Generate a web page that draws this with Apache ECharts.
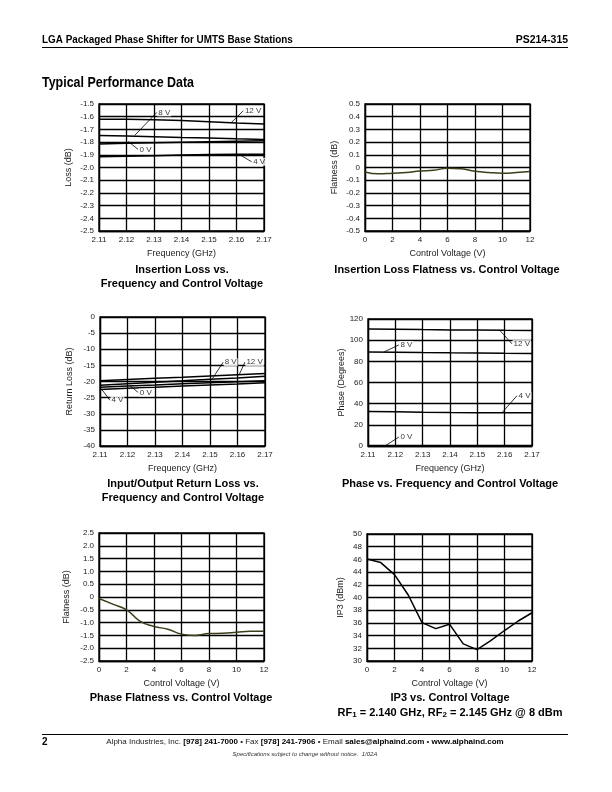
<!DOCTYPE html>
<html>
<head>
<meta charset="utf-8">
<script src="https://cdn.jsdelivr.net/npm/echarts@6/dist/echarts.min.js"></script>
<style>
html,body{margin:0;padding:0;background:#fff;}
#c{width:612px;height:792px;}
</style>
</head>
<body>
<div id="c"></div>
<script>
// ---------- DATA ----------
const freq = [2.11, 2.12, 2.13, 2.14, 2.15, 2.16, 2.17];
const voltage = [0, 1, 2, 3, 4, 5, 6, 7, 8, 9, 10, 11, 12];

// Insertion loss (dB) vs frequency
const il0V  = [-1.815, -1.81, -1.806, -1.802, -1.798, -1.794, -1.79];
const il4V  = [-1.915, -1.912, -1.908, -1.902, -1.898, -1.896, -1.895];
const il8V  = [-1.748, -1.752, -1.757, -1.763, -1.768, -1.774, -1.779];
const il12V = [-1.62, -1.621, -1.624, -1.63, -1.64, -1.65, -1.658];

// Insertion loss flatness (dB) vs control voltage
const ilFlat = [-0.035, -0.05, -0.045, -0.04, -0.028, -0.022, -0.005, -0.01, -0.03, -0.04, -0.045, -0.04, -0.032];

// Return loss (dB) vs frequency
const rl12V = [-19.8, -19.4, -19.0, -18.7, -18.3, -17.9, -17.5];
const rl8V  = [-21.2, -20.7, -20.2, -19.8, -19.3, -18.9, -18.4];
const rl0V  = [-21.8, -21.4, -21.1, -20.7, -20.4, -20.1, -19.8];
const rl4V  = [-22.5, -22.1, -21.8, -21.4, -21.1, -20.8, -20.4];

// Phase (degrees) vs frequency
const ph12V = [110.5, 110.4, 110.0, 109.7, 109.5, 109.3, 109.2];
const ph8V  = [88.8, 88.7, 88.3, 88.0, 87.8, 87.6, 87.5];
const ph4V  = [32.5, 32.3, 31.8, 31.6, 31.5, 31.4, 31.3];
const ph0V  = [0.5, 0.5, 0.5, 0.5, 0.5, 0.5, 0.5];

// Phase flatness (dB) vs control voltage
const phFlat = [-0.06, -0.28, -0.5, -0.95, -1.15, -1.26, -1.45, -1.5, -1.43, -1.42, -1.38, -1.34, -1.34];

// IP3 (dBm) vs control voltage
const ip3 = [46.05, 45.5, 43.6, 40.4, 36.05, 35.1, 35.8, 32.7, 31.8, 33.2, 34.8, 36.3, 37.6];

// Curve labels with leader lines: [text, fromX, fromY, toX, toY]
const ilLabels = [['8 V', 2.123, -1.747, 2.131, -1.566], ['12 V', 2.158, -1.648, 2.1625, -1.553],
                  ['0 V', 2.1206, -1.795, 2.1242, -1.857], ['4 V', 2.161, -1.897, 2.1655, -1.955]];
const rlLabels = [['8 V', 2.1508, -19.2, 2.1548, -14.0], ['12 V', 2.1606, -17.9, 2.1627, -14.0],
                  ['0 V', 2.1209, -21.3, 2.1239, -23.4], ['4 V', 2.1106, -22.4, 2.1136, -25.8]];
const phLabels = [['8 V', 2.1158, 88.8, 2.1213, 95.5], ['12 V', 2.1582, 109.3, 2.1627, 96.5],
                  ['4 V', 2.159, 31.4, 2.1645, 47.5], ['0 V', 2.1165, 0.5, 2.1213, 8.5]];

// Tick settings
const freqTicks = {min: 2.11, max: 2.17, interval: 0.01};
const voltTicks = {min: 0, max: 12, interval: 2};

// ---------- CHART ----------
const chart = echarts.init(document.getElementById('c'), null, {renderer: 'canvas'});
const FONT = '"Liberation Sans", Arial, sans-serif';
const BLK = '#000';
const GRIDW = 1.3;

const rects = [
  {left: 99, top: 104, width: 165, height: 127},
  {left: 365, top: 104, width: 165, height: 127},
  {left: 100, top: 317, width: 165, height: 129},
  {left: 368, top: 319, width: 164, height: 127},
  {left: 99, top: 533, width: 165, height: 128},
  {left: 367, top: 534, width: 165, height: 127}
];

const fmt1 = v => (Math.abs(v) < 1e-9 ? '0' : v.toFixed(1));
const fmt1b = v => v.toFixed(1);
const fmt0 = v => String(Math.round(v));
const fmt2 = v => v.toFixed(2);

function xAx(i, ticks, name, f) {
  return {
    gridIndex: i, type: 'value', min: ticks.min, max: ticks.max, interval: ticks.interval,
    name: name, nameLocation: 'middle', nameGap: 18,
    nameTextStyle: {fontSize: 9, color: '#222', fontFamily: FONT},
    axisLine: {show: true, onZero: false, lineStyle: {color: BLK, width: GRIDW}},
    axisTick: {show: false},
    splitLine: {show: true, lineStyle: {color: BLK, width: GRIDW}},
    axisLabel: {fontSize: 8, color: '#222', fontFamily: FONT, margin: 5, formatter: f,
                showMinLabel: true, showMaxLabel: true}
  };
}
function yAx(i, min, max, interval, name, f, gap) {
  return {
    gridIndex: i, type: 'value', min: min, max: max, interval: interval,
    name: name, nameLocation: 'middle', nameGap: gap,
    nameTextStyle: {fontSize: 9, color: '#222', fontFamily: FONT},
    axisLine: {show: true, onZero: false, lineStyle: {color: BLK, width: GRIDW}},
    axisTick: {show: false},
    splitLine: {show: true, lineStyle: {color: BLK, width: GRIDW}},
    axisLabel: {fontSize: 8, color: '#222', fontFamily: FONT, margin: 5, formatter: f,
                showMinLabel: true, showMaxLabel: true}
  };
}

const series = [];
function curve(i, xs, ys, color, smooth) {
  series.push({
    type: 'line', xAxisIndex: i, yAxisIndex: i, symbol: 'none', smooth: smooth || false,
    data: xs.map((x, k) => [x, ys[k]]), silent: true, z: 4,
    lineStyle: {color: color, width: 1.5}
  });
}
function annotate(i, list) {
  list.forEach(a => {
    series.push({
      type: 'line', xAxisIndex: i, yAxisIndex: i, symbol: 'none', silent: true, z: 6,
      data: [[a[1], a[2]], [a[3], a[4]]], lineStyle: {color: BLK, width: 0.8}
    });
    series.push({
      type: 'scatter', xAxisIndex: i, yAxisIndex: i, symbolSize: 1, silent: true, z: 7,
      itemStyle: {color: 'rgba(0,0,0,0)'},
      data: [{value: [a[3], a[4]]}],
      label: {show: true, position: 'right', distance: 0, formatter: a[0], fontSize: 8,
              color: '#000', fontFamily: FONT, backgroundColor: '#fff', padding: [0, 1, 0, 1]}
    });
  });
}

curve(0, freq, il12V, BLK); curve(0, freq, il8V, BLK); curve(0, freq, il0V, BLK); curve(0, freq, il4V, BLK);
annotate(0, ilLabels);
curve(1, voltage, ilFlat, '#3d3d1a', true);
curve(2, freq, rl12V, BLK); curve(2, freq, rl8V, BLK); curve(2, freq, rl0V, BLK); curve(2, freq, rl4V, BLK);
annotate(2, rlLabels);
curve(3, freq, ph12V, BLK); curve(3, freq, ph8V, BLK); curve(3, freq, ph4V, BLK); curve(3, freq, ph0V, BLK);
annotate(3, phLabels);
curve(4, voltage, phFlat, '#3d3d1a', true);
curve(5, voltage, ip3, BLK, false);

function title(x, y, text, extra) {
  return Object.assign({
    type: 'text', x: x, y: y, silent: true,
    style: {text: text, font: 'bold 11px ' + FONT, fill: '#000', textAlign: 'center', textVerticalAlign: 'middle'}
  }, extra || {});
}

const graphics = [
  {type: 'text', x: 42, y: 40, scaleX: 0.9, silent: true,
   style: {text: 'LGA Packaged Phase Shifter for UMTS Base Stations', font: 'bold 11px ' + FONT, fill: '#000', textVerticalAlign: 'middle'}},
  {type: 'text', x: 568, y: 40, scaleX: 0.95, silent: true,
   style: {text: 'PS214-315', font: 'bold 11px ' + FONT, fill: '#000', textAlign: 'right', textVerticalAlign: 'middle'}},
  {type: 'line', silent: true, shape: {x1: 42, y1: 47.5, x2: 568, y2: 47.5}, style: {stroke: '#000', lineWidth: 1}},
  {type: 'text', x: 42, y: 83, scaleX: 0.83, silent: true,
   style: {text: 'Typical Performance Data', font: 'bold 15px ' + FONT, fill: '#000', textVerticalAlign: 'middle'}},
  title(182, 270, 'Insertion Loss vs.'),
  title(182, 284, 'Frequency and Control Voltage'),
  title(447, 270, 'Insertion Loss Flatness vs. Control Voltage'),
  title(183, 484, 'Input/Output Return Loss vs.'),
  title(183, 498, 'Frequency and Control Voltage'),
  title(450, 484, 'Phase vs. Frequency and Control Voltage'),
  title(181, 698, 'Phase Flatness vs. Control Voltage'),
  title(450, 698, 'IP3 vs. Control Voltage'),
  {type: 'text', x: 450, y: 713, silent: true,
   style: {text: 'RF{s|1} = 2.140 GHz, RF{s|2} = 2.145 GHz @ 8 dBm', font: 'bold 11px ' + FONT, fill: '#000',
           textAlign: 'center', textVerticalAlign: 'middle',
           rich: {s: {fontSize: 8, fontWeight: 'bold', fontFamily: FONT, verticalAlign: 'bottom', lineHeight: 9, padding: [4, 0, 0, 0]}}}},
  {type: 'line', silent: true, shape: {x1: 42, y1: 734.5, x2: 568, y2: 734.5}, style: {stroke: '#000', lineWidth: 1}},
  {type: 'text', x: 42, y: 742, silent: true,
   style: {text: '2', font: 'bold 10px ' + FONT, fill: '#000', textVerticalAlign: 'middle'}},
  {type: 'text', x: 305, y: 742, silent: true,
   style: {text: 'Alpha Industries, Inc. {b|[978] 241-7000} • Fax {b|[978] 241-7906} • Email {b|sales@alphaind.com} • {b|www.alphaind.com}',
           font: '8px ' + FONT, fill: '#222', textAlign: 'center', textVerticalAlign: 'middle',
           rich: {b: {fontWeight: 'bold', fontSize: 8, fontFamily: FONT, fill: '#000'}}}},
  {type: 'text', x: 305, y: 754, silent: true,
   style: {text: 'Specifications subject to change without notice.  1/02A', font: 'italic 6px ' + FONT, fill: '#333',
           textAlign: 'center', textVerticalAlign: 'middle'}}
];

const option = {
  animation: false,
  backgroundColor: '#fff',
  grid: rects.map(r => Object.assign({show: true, borderColor: BLK, borderWidth: GRIDW, containLabel: false}, r)),
  xAxis: [
    xAx(0, freqTicks, 'Frequency (GHz)', fmt2),
    xAx(1, voltTicks, 'Control Voltage (V)', fmt0),
    xAx(2, freqTicks, 'Frequency (GHz)', fmt2),
    xAx(3, freqTicks, 'Frequency (GHz)', fmt2),
    xAx(4, voltTicks, 'Control Voltage (V)', fmt0),
    xAx(5, voltTicks, 'Control Voltage (V)', fmt0)
  ],
  yAxis: [
    yAx(0, -2.5, -1.5, 0.1, 'Loss (dB)', fmt1b, 26),
    yAx(1, -0.5, 0.5, 0.1, 'Flatness (dB)', fmt1, 26),
    yAx(2, -40, 0, 5, 'Return Loss (dB)', fmt0, 26),
    yAx(3, 0, 120, 20, 'Phase (Degrees)', fmt0, 22),
    yAx(4, -2.5, 2.5, 0.5, 'Flatness (dB)', fmt1, 28),
    yAx(5, 30, 50, 2, 'IP3 (dBm)', fmt0, 22)
  ],
  series: series,
  graphic: graphics
};
chart.setOption(option);
</script>
</body>
</html>
